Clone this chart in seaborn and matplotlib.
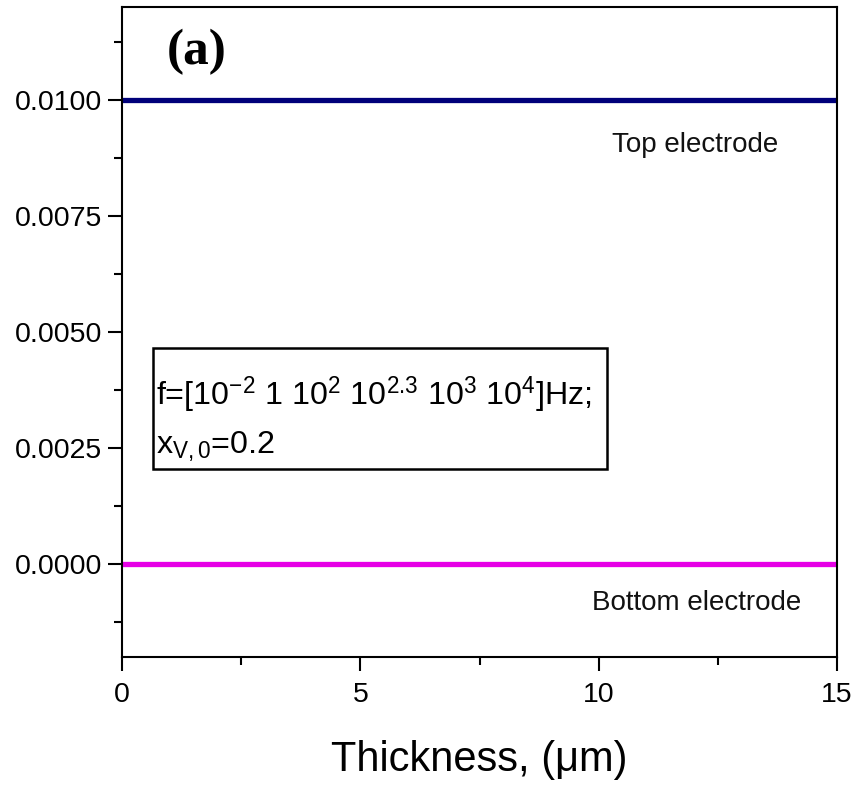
import matplotlib
matplotlib.use("Agg")
import matplotlib.pyplot as plt
import seaborn as sns
import pandas as pd
from matplotlib.patches import Rectangle
from matplotlib.ticker import MultipleLocator, FixedLocator

# Data
thickness = [0, 15]
top_electrode = [0.0100, 0.0100]
bottom_electrode = [0.0000, 0.0000]
series_names = ["Top electrode", "Bottom electrode"]
series_colors = ["#00007a", "#e600e6"]
x_ticks = [0, 5, 10, 15]
y_ticks = [0.0000, 0.0025, 0.0050, 0.0075, 0.0100]
y_tick_labels = ["0.0000", "0.0025", "0.0050", "0.0075", "0.0100"]

df = pd.DataFrame({
    "thickness": thickness + thickness,
    "value": top_electrode + bottom_electrode,
    "series": [series_names[0]] * 2 + [series_names[1]] * 2,
})

sns.set_theme(style="ticks")
plt.rcParams["font.family"] = ["Liberation Sans", "DejaVu Sans"]
plt.rcParams["mathtext.fontset"] = "custom"
plt.rcParams["mathtext.rm"] = "Liberation Sans"
plt.rcParams["mathtext.it"] = "Liberation Sans"
plt.rcParams["mathtext.bf"] = "Liberation Sans:bold"
plt.rcParams["text.color"] = "black"
plt.rcParams["axes.labelcolor"] = "black"

fig = plt.figure(figsize=(8.55, 7.87), dpi=100)
ax = fig.add_axes([122 / 855, 1 - 657 / 787, 715 / 855, 650 / 787])

sns.lineplot(data=df, x="thickness", y="value", hue="series",
             palette=dict(zip(series_names, series_colors)),
             linewidth=3.8, legend=False, ax=ax)
for ln in ax.lines:
    ln.set_solid_capstyle("butt")

ax.set_xlim(0, 15)
ax.set_ylim(-0.002, 0.012)
ax.xaxis.set_major_locator(FixedLocator(x_ticks))
ax.xaxis.set_minor_locator(MultipleLocator(2.5))
ax.yaxis.set_major_locator(FixedLocator(y_ticks))
ax.set_yticklabels(y_tick_labels)
ax.set_xticklabels([str(v) for v in x_ticks])
ax.yaxis.set_minor_locator(MultipleLocator(0.00125))

for s in ax.spines.values():
    s.set_linewidth(1.5)
    s.set_color("black")
ax.tick_params(which="major", direction="out", length=10, width=1.5,
               labelsize=20.5, colors="black", pad=4)
ax.tick_params(axis="x", which="major", pad=8)
ax.tick_params(which="minor", direction="out", length=6, width=1.5, colors="black")
ax.tick_params(top=False, right=False, which="both")

ax.set_xlabel("Thickness, (\u03bcm)", fontsize=30, labelpad=23, color="black")
ax.set_ylabel("")

ax.text(0.105, 0.931, "(a)", transform=ax.transAxes, fontsize=37,
        fontweight="bold", family="Liberation Serif", ha="center", va="center",
        color="black")
ax.text(0.801, 0.788, "Top electrode", transform=ax.transAxes, fontsize=20,
        ha="center", va="center", color="#111111")
ax.text(0.804, 0.083, "Bottom electrode", transform=ax.transAxes, fontsize=20,
        ha="center", va="center", color="#111111")

box = Rectangle((0.0434, 0.2892), 0.678 - 0.0434, 0.4754 - 0.2892,
                transform=ax.transAxes, fill=False, edgecolor="black", linewidth=1.8)
ax.add_patch(box)
ax.text(0.048, 0.403,
        r"f=[10$^{\mathregular{-2}}$ 1 10$^{\mathregular{2}}$ 10$^{\mathregular{2.3}}$ 10$^{\mathregular{3}}$ 10$^{\mathregular{4}}$]Hz;",
        transform=ax.transAxes, fontsize=23.2, ha="left", va="center", color="black")
ax.text(0.048, 0.323, r"x$_{\mathregular{V,0}}$=0.2",
        transform=ax.transAxes, fontsize=23.2, ha="left", va="center", color="black")

fig.savefig("out.png", dpi=100, facecolor="white")
